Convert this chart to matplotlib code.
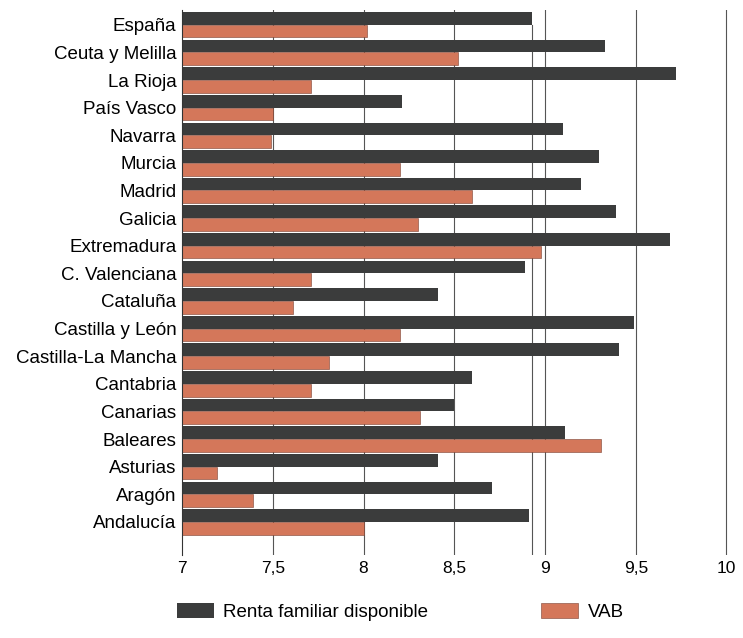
import matplotlib
matplotlib.use("Agg")
import matplotlib.pyplot as plt
import numpy as np

plt.rcParams["font.family"] = ["Liberation Sans Narrow", "Liberation Sans", "DejaVu Sans"]

regiones = ["España", "Ceuta y Melilla", "La Rioja", "País Vasco", "Navarra", "Murcia",
            "Madrid", "Galicia", "Extremadura", "C. Valenciana", "Cataluña",
            "Castilla y León", "Castilla-La Mancha", "Cantabria", "Canarias",
            "Baleares", "Asturias", "Aragón", "Andalucía"]
renta = [8.93, 9.33, 9.72, 8.21, 9.10, 9.30, 9.20, 9.39, 9.69, 8.89, 8.41,
         9.49, 9.41, 8.60, 8.50, 9.11, 8.41, 8.71, 8.91]
vab = [8.02, 8.52, 7.71, 7.50, 7.49, 8.20, 8.60, 8.30, 8.98, 7.71, 7.61,
       8.20, 7.81, 7.71, 8.31, 9.31, 7.19, 7.39, 8.00]
ticks = [7, 7.5, 8, 8.5, 9, 9.5, 10]
tick_labels = ["7", "7,5", "8", "8,5", "9", "9,5", "10"]

gris = "#3b3c3c"
naranja = "#d4775a"

fig = plt.figure(figsize=(7.43, 6.38), dpi=100)
ax = fig.add_axes([0.245, 0.13, 0.745, 0.855])

y = np.arange(len(regiones))[::-1]
h = 0.46
base = 7
ax.barh(y + h / 2, np.array(renta) - base, left=base, height=h, color=gris,
        label="Renta familiar disponible", zorder=2)
ax.barh(y - h / 2, np.array(vab) - base, left=base, height=h, color=naranja,
        edgecolor="#7a4030", linewidth=0.4, label="VAB", zorder=2)

for t in ticks[1:]:
    ax.axvline(t, color="#555555", linewidth=0.8, zorder=1)
ax.plot([renta[0], renta[0]], [-1.2, y[0]], color="#555555", linewidth=0.8, zorder=1)

ax.set_xlim(7, 10.05)
ax.set_ylim(-1.2, len(regiones) - 0.45)
ax.set_xticks(ticks)
ax.set_xticklabels(tick_labels, fontsize=12.5)
ax.set_yticks(y)
ax.set_yticklabels(regiones, fontsize=13.5)
ax.tick_params(length=0, pad=4)
for s in ["top", "right", "bottom"]:
    ax.spines[s].set_visible(False)
ax.spines["left"].set_color("#333333")

fig.legend(loc="lower left", bbox_to_anchor=(0.215, 0.0), ncol=2, frameon=False,
           fontsize=13.5, columnspacing=6, handlelength=2.0, handleheight=0.8,
           handletextpad=0.5)

fig.savefig("out.png", dpi=100)
